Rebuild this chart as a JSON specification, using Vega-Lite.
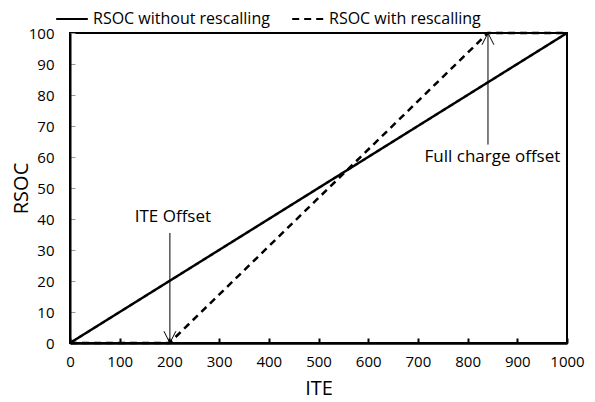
{
  "$schema": "https://vega.github.io/schema/vega-lite/v6.json",
  "width": 497,
  "height": 310,
  "autosize": {"type": "none"},
  "padding": {"left": 70, "top": 33, "right": 28, "bottom": 59},
  "background": "white",
  "config": {
    "font": "Open Sans",
    "view": {"stroke": "#000", "strokeWidth": 2},
    "axis": {"grid": false, "labelFont": "Open Sans", "titleFont": "Open Sans", "labelColor": "#000", "titleColor": "#000", "titleFontWeight": "normal", "labelOverlap": false, "labelFlush": false, "format": "d"}
  },
  "datasets": {
    "series": [
      {"series": "RSOC without rescalling", "ITE": 0, "RSOC": 0, "o": 1},
      {"series": "RSOC without rescalling", "ITE": 1000, "RSOC": 100, "o": 2},
      {"series": "RSOC with rescalling", "ITE": 0, "RSOC": 0, "o": 1},
      {"series": "RSOC with rescalling", "ITE": 200, "RSOC": 0, "o": 2},
      {"series": "RSOC with rescalling", "ITE": 841, "RSOC": 100, "o": 3},
      {"series": "RSOC with rescalling", "ITE": 1000, "RSOC": 100, "o": 4}
    ],
    "heads": [
      {"g": "a1", "ITE": 189, "RSOC": 3.8, "o": 1},
      {"g": "a1", "ITE": 201, "RSOC": 0, "o": 2},
      {"g": "a1", "ITE": 213, "RSOC": 3.8, "o": 3},
      {"g": "a2", "ITE": 829, "RSOC": 96.2, "o": 1},
      {"g": "a2", "ITE": 841, "RSOC": 100, "o": 2},
      {"g": "a2", "ITE": 853, "RSOC": 96.2, "o": 3}
    ],
    "shafts": [
      {"ITE": 201, "y1": 35.5, "y2": 0},
      {"ITE": 841, "y1": 64, "y2": 100}
    ],
    "labels": [
      {"ITE": 207, "RSOC": 40.6, "label": "ITE Offset"},
      {"ITE": 850, "RSOC": 60, "label": "Full charge offset"}
    ]
  },
  "layer": [
    {
      "data": {"name": "series"},
      "mark": {"type": "line", "color": "#000", "strokeWidth": 2.5, "clip": false},
      "encoding": {
        "x": {"field": "ITE", "type": "quantitative", "scale": {"domain": [0, 1000], "nice": false},
          "axis": {"values": [0,100,200,300,400,500,600,700,800,900,1000], "labelOverlap": false, "title": "ITE", "titleFontSize": 20, "labelFontSize": 15, "domainColor": "#000", "domainWidth": 2.5, "tickColor": "#000", "tickWidth": 2, "tickSize": -5, "labelPadding": 16, "titlePadding": 9}},
        "y": {"field": "RSOC", "type": "quantitative", "scale": {"domain": [0, 100], "nice": false},
          "axis": {"values": [0,10,20,30,40,50,60,70,80,90,100], "labelOverlap": false, "tickCount": 11, "title": "RSOC", "titleFontSize": 20, "labelFontSize": 15, "domainColor": "#000", "domainWidth": 2, "tickColor": "#999", "tickWidth": 1, "tickSize": -5, "labelPadding": 21, "titlePadding": -3}},
        "strokeDash": {"field": "series", "type": "nominal",
          "scale": {"domain": ["RSOC without rescalling", "RSOC with rescalling"], "range": [[1, 0], [7, 5]]},
          "legend": {"title": null, "orient": "none", "legendX": -15, "legendY": -31, "direction": "horizontal", "labelFontSize": 16, "labelLimit": 400, "labelFont": "Open Sans", "labelColor": "#000", "symbolType": "stroke", "symbolSize": 1000, "symbolStrokeColor": "#000", "symbolStrokeWidth": 2, "columnPadding": 18, "labelOffset": 4}},
        "order": {"field": "o", "type": "quantitative"}
      }
    },
    {
      "data": {"name": "shafts"},
      "mark": {"type": "rule", "color": "#000", "strokeWidth": 1},
      "encoding": {
        "x": {"field": "ITE", "type": "quantitative"},
        "y": {"field": "y1", "type": "quantitative"},
        "y2": {"field": "y2"}
      }
    },
    {
      "data": {"name": "heads"},
      "mark": {"type": "line", "color": "#000", "strokeWidth": 1},
      "encoding": {
        "x": {"field": "ITE", "type": "quantitative"},
        "y": {"field": "RSOC", "type": "quantitative"},
        "detail": {"field": "g"},
        "order": {"field": "o", "type": "quantitative"}
      }
    },
    {
      "data": {"name": "labels"},
      "mark": {"type": "text", "fontSize": 17, "font": "Open Sans", "color": "#000", "align": "center", "baseline": "middle"},
      "encoding": {
        "x": {"field": "ITE", "type": "quantitative"},
        "y": {"field": "RSOC", "type": "quantitative"},
        "text": {"field": "label"}
      }
    }
  ]
}
